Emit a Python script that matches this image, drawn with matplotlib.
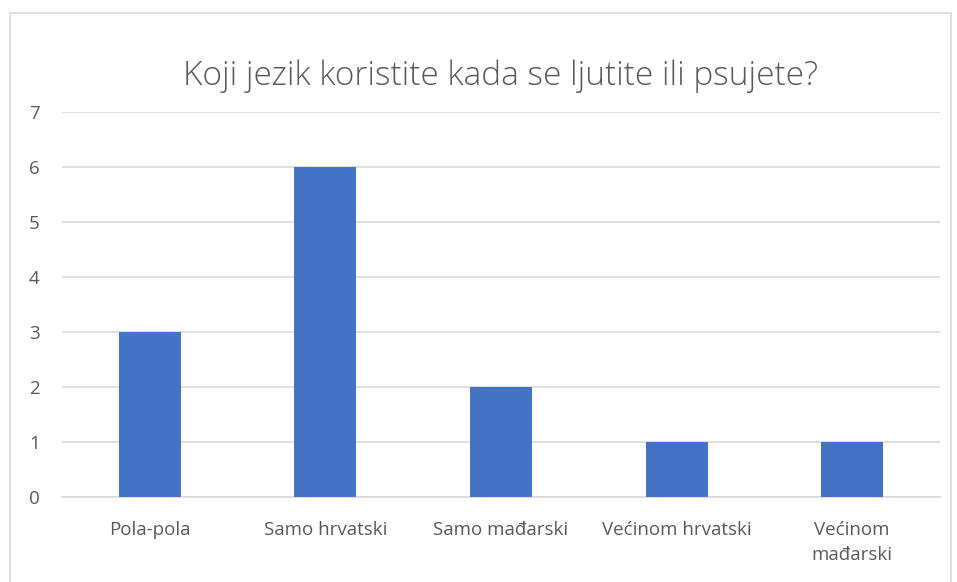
import matplotlib
matplotlib.use('Agg')
import matplotlib.pyplot as plt
from matplotlib.patches import Rectangle
import numpy as np

categories = ['Pola-pola', 'Samo hrvatski', 'Samo mađarski', 'Većinom hrvatski', 'Većinom\nmađarski']
counts = [3, 6, 2, 1, 1]
y_ticks = [0, 1, 2, 3, 4, 5, 6, 7]
title = 'Koji jezik koristite kada se ljutite ili psujete?'

BAR_COLOR = '#4472C4'
TEXT_COLOR = '#595959'
GRID_COLOR = '#D9D9D9'

plt.rcParams['font.family'] = ['Open Sans', 'DejaVu Sans']

W, H = 957, 582
fig = plt.figure(figsize=(W / 100, H / 100), dpi=100)
ax = fig.add_axes([62 / W, 1 - 497 / H, (940 - 62) / W, (497 - 112) / H])

# chart border
fig.patches.append(Rectangle((9.5 / W, -0.05), (951 - 9.5) / W, 1.05 - 12.5 / H,
                             transform=fig.transFigure, fill=False,
                             edgecolor=GRID_COLOR, linewidth=1.2))

x = np.arange(len(categories))
ax.bar(x, counts, width=0.353, color=BAR_COLOR, zorder=3)

ax.set_xlim(-0.5, len(categories) - 0.5)
ax.set_ylim(0, 7)
ax.set_yticks(y_ticks)
ax.set_xticks(x)
ax.set_xticklabels(categories, linespacing=1.55)
ax.yaxis.grid(True, color=GRID_COLOR, linewidth=1.2, zorder=0)
ax.tick_params(axis='both', length=0, labelsize=13.5, colors=TEXT_COLOR)
ax.tick_params(axis='y', pad=16)
ax.tick_params(axis='x', pad=17)
for s in ['top', 'right', 'left']:
    ax.spines[s].set_visible(False)
ax.spines['bottom'].set_color(GRID_COLOR)
ax.spines['bottom'].set_linewidth(1.2)

fig.text((62 + 940) / 2 / W, 1 - 76 / H, title, ha='center', va='center',
         fontsize=24, color=TEXT_COLOR, fontweight='light')

plt.savefig('out.png', dpi=100)
